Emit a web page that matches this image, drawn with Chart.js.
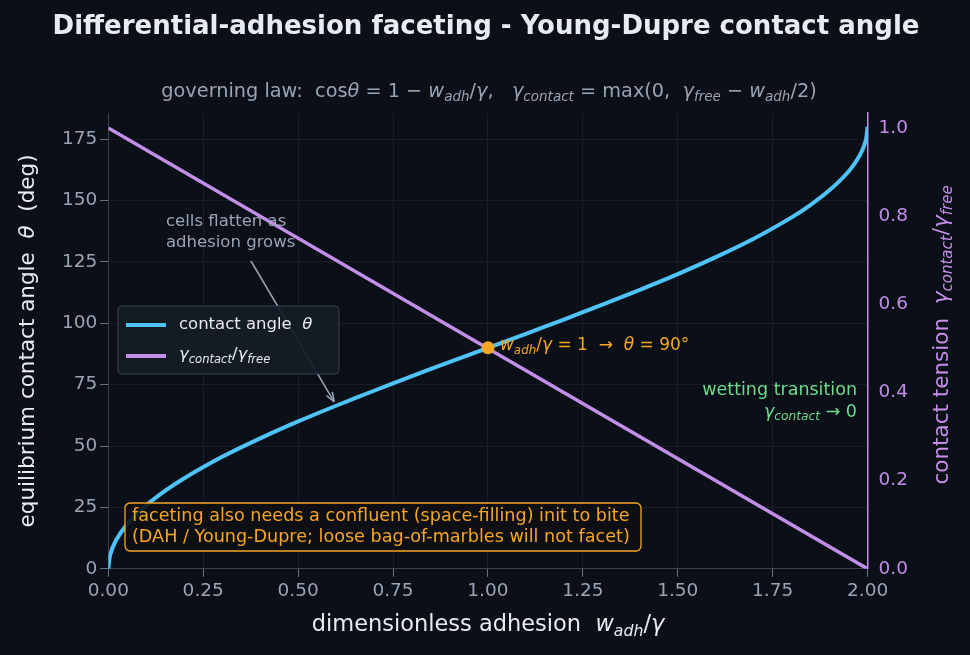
<!DOCTYPE html>
<html><head><meta charset="utf-8">
<script src="https://cdn.jsdelivr.net/npm/chart.js@4"></script>
<style>html,body{margin:0;background:#0b0f17}#wrap{width:970px;height:655px}</style>
</head><body><div id="wrap"><canvas id="c"></canvas></div>
<script>
// adhesion values (x) and contact angle
const adhesion = [0, 0.005, 0.02, 0.05, 0.1, 0.15, 0.2, 0.3, 0.4, 0.5, 0.6, 0.7, 0.8, 0.9, 1.0,
  1.1, 1.2, 1.3, 1.4, 1.5, 1.6, 1.7, 1.8, 1.85, 1.9, 1.95, 1.98, 1.995, 2.0];
const contactAngle = [0, 5.7, 11.5, 18.2, 25.8, 31.8, 36.9, 45.6, 53.1, 60, 66.4, 72.5, 78.5, 84.3, 90,
  95.7, 101.5, 107.5, 113.6, 120, 126.9, 134.4, 143.1, 148.2, 154.2, 161.8, 168.5, 174.3, 180];
const tensionX = [0, 1, 2];
const tensionRatio = [1, 0.5, 0];
const xTicks = [0, 0.25, 0.5, 0.75, 1, 1.25, 1.5, 1.75, 2];

const BG = "#0b0f17", BLUE = "#4fc3f7", PURPLE = "#c38ee8", ORANGE = "#f5a623", GREEN = "#6fdc8c";
const FONT = "DejaVu Sans";

// draw text made of segments: {t, sub, it}
function rich(ctx, segs, x, y, size, color, align) {
  const w = segs.reduce((a, s) => {
    ctx.font = (s.it ? "italic " : "") + (s.sub ? size * 0.7 : size) + "px " + FONT;
    return a + ctx.measureText(s.t).width;
  }, 0);
  let cx = align === "right" ? x - w : align === "center" ? x - w / 2 : x;
  ctx.fillStyle = color; ctx.textBaseline = "middle"; ctx.textAlign = "left";
  segs.forEach((s) => {
    ctx.font = (s.it ? "italic " : "") + (s.sub ? size * 0.7 : size) + "px " + FONT;
    ctx.fillText(s.t, cx, s.sub ? y + size * 0.3 : y);
    cx += ctx.measureText(s.t).width;
  });
  return w;
}

const deco = {
  id: "deco",
  beforeDraw(chart) {
    const c = chart.ctx;
    c.save(); c.fillStyle = BG; c.fillRect(0, 0, chart.width, chart.height); c.restore();
  },
  afterDraw(chart) {
    const c = chart.ctx, a = chart.chartArea, x = chart.scales.x, y = chart.scales.y;
    c.save();
    c.fillStyle = "#e6ebf5"; c.font = "bold 26px " + FONT; c.textAlign = "center"; c.textBaseline = "middle";
    c.fillText("Differential-adhesion faceting - Young-Dupre contact angle", 486, 27);
    rich(c, [{t: "governing law:  cos"}, {t: "θ", it: 1}, {t: " = 1 − "}, {t: "w", it: 1}, {t: "adh", sub: 1, it: 1},
      {t: "/"}, {t: "γ", it: 1}, {t: ",   "}, {t: "γ", it: 1}, {t: "contact", sub: 1, it: 1}, {t: " = max(0,  "},
      {t: "γ", it: 1}, {t: "free", sub: 1, it: 1}, {t: " − "}, {t: "w", it: 1}, {t: "adh", sub: 1, it: 1}, {t: "/2)"}],
      489, 92, 19.3, "#9aa4b4", "center");
    // axis titles
    rich(c, [{t: "dimensionless adhesion  "}, {t: "w", it: 1}, {t: "adh", sub: 1, it: 1}, {t: "/"}, {t: "γ", it: 1}],
      488, 625, 22.5, "#e6ebf5", "center");
    c.save(); c.translate(28, (a.top + a.bottom) / 2); c.rotate(-Math.PI / 2);
    rich(c, [{t: "equilibrium contact angle  "}, {t: "θ", it: 1}, {t: "  (deg)"}], 0, 0, 21.5, "#e6ebf5", "center");
    c.restore();
    c.save(); c.translate(942, (a.top + a.bottom) / 2 - 6); c.rotate(-Math.PI / 2);
    rich(c, [{t: "contact tension  "}, {t: "γ", it: 1}, {t: "contact", sub: 1, it: 1}, {t: "/"}, {t: "γ", it: 1}, {t: "free", sub: 1, it: 1}],
      0, 0, 21.5, PURPLE, "center");
    c.restore();
    // marker at w=1
    const px = x.getPixelForValue(1), py = y.getPixelForValue(90);
    c.fillStyle = ORANGE; c.beginPath(); c.arc(px, py, 6.5, 0, 2 * Math.PI); c.fill();
    rich(c, [{t: "w", it: 1}, {t: "adh", sub: 1, it: 1}, {t: "/"}, {t: "γ", it: 1}, {t: " = 1  →  "}, {t: "θ", it: 1}, {t: " = 90°"}],
      px + 12, py - 2, 17, ORANGE, "left");
    // wetting transition
    rich(c, [{t: "wetting transition"}], 857, 390, 17.5, GREEN, "right");
    rich(c, [{t: "γ", it: 1}, {t: "contact", sub: 1, it: 1}, {t: " → 0"}], 857, 412, 17.5, GREEN, "right");
    // cells flatten annotation
    rich(c, [{t: "cells flatten as"}], 166, 222, 16.5, "#9aa4b4", "left");
    rich(c, [{t: "adhesion grows"}], 166, 243, 16.5, "#9aa4b4", "left");
    const ax = x.getPixelForValue(0.595), ay = y.getPixelForValue(68);
    c.strokeStyle = "#9aa4b4"; c.fillStyle = "#9aa4b4"; c.lineWidth = 1.5;
    c.beginPath(); c.moveTo(251, 261); c.lineTo(ax, ay); c.stroke();
    const ang = Math.atan2(ay - 261, ax - 251);
    c.beginPath(); c.moveTo(ax, ay);
    c.lineTo(ax - 10 * Math.cos(ang - 0.35), ay - 10 * Math.sin(ang - 0.35));
    c.moveTo(ax, ay);
    c.lineTo(ax - 10 * Math.cos(ang + 0.35), ay - 10 * Math.sin(ang + 0.35)); c.stroke();
    // legend box
    c.fillStyle = "rgba(22,28,38,0.92)"; c.strokeStyle = "#3a4250"; c.lineWidth = 1;
    c.beginPath(); c.roundRect(118, 306, 221, 68, 4); c.fill(); c.stroke();
    c.lineWidth = 4; c.strokeStyle = BLUE; c.beginPath(); c.moveTo(126, 325); c.lineTo(166, 325); c.stroke();
    c.strokeStyle = PURPLE; c.beginPath(); c.moveTo(126, 356); c.lineTo(166, 356); c.stroke();
    rich(c, [{t: "contact angle  "}, {t: "θ", it: 1}], 179, 325, 16.5, "#e6ebf5", "left");
    rich(c, [{t: "γ", it: 1}, {t: "contact", sub: 1, it: 1}, {t: "/"}, {t: "γ", it: 1}, {t: "free", sub: 1, it: 1}], 179, 355, 16.5, "#e6ebf5", "left");
    // faceting note box
    c.fillStyle = "rgba(14,16,20,0.9)"; c.strokeStyle = ORANGE; c.lineWidth = 1.3;
    c.beginPath(); c.roundRect(125, 503, 516, 48, 5); c.fill(); c.stroke();
    rich(c, [{t: "faceting also needs a confluent (space-filling) init to bite"}], 132, 516, 17.6, ORANGE, "left");
    rich(c, [{t: "(DAH / Young-Dupre; loose bag-of-marbles will not facet)"}], 132, 537, 17.6, ORANGE, "left");
    c.restore();
  }
};

new Chart(document.getElementById("c"), {
  type: "scatter",
  data: {
    datasets: [
      { label: "contact angle", data: adhesion.map((w, i) => ({x: w, y: contactAngle[i]})), showLine: true,
        borderColor: BLUE, borderWidth: 4, pointRadius: 0, yAxisID: "y", tension: 0.3 },
      { label: "tension", data: tensionX.map((w, i) => ({x: w, y: tensionRatio[i]})), showLine: true,
        borderColor: PURPLE, borderWidth: 3.5, pointRadius: 0, yAxisID: "y2" }
    ]
  },
  options: {
    responsive: true, maintainAspectRatio: false, animation: false,
    layout: { padding: { left: 59, right: 59, top: 113, bottom: 50 } },
    plugins: { legend: { display: false }, tooltip: { enabled: false } },
    scales: {
      x: { type: "linear", min: 0, max: 2,
        afterBuildTicks: (s) => { s.ticks = xTicks.map((v) => ({value: v})); },
        ticks: { color: "#9aa4b4", font: { family: FONT, size: 18.5 }, callback: (v) => v.toFixed(2) },
        grid: { color: "rgba(120,135,160,0.12)", tickColor: "#6b7383" }, border: { color: "#3a4250" } },
      y: { min: 0, max: 185.6, position: "left",
        afterBuildTicks: (s) => { s.ticks = [0, 25, 50, 75, 100, 125, 150, 175].map((v) => ({value: v})); },
        ticks: { color: "#9aa4b4", font: { family: FONT, size: 18.5 } },
        grid: { color: "rgba(120,135,160,0.12)", tickColor: "#6b7383" }, border: { color: "#3a4250" } },
      y2: { min: 0, max: 1.034, position: "right",
        afterBuildTicks: (s) => { s.ticks = [0, 0.2, 0.4, 0.6, 0.8, 1.0].map((v) => ({value: v})); },
        ticks: { color: PURPLE, font: { family: FONT, size: 18.5 }, callback: (v) => v.toFixed(1) },
        grid: { display: false, drawOnChartArea: false, tickColor: PURPLE }, border: { color: PURPLE, width: 1.5 } }
    }
  },
  plugins: [deco]
});
</script></body></html>
